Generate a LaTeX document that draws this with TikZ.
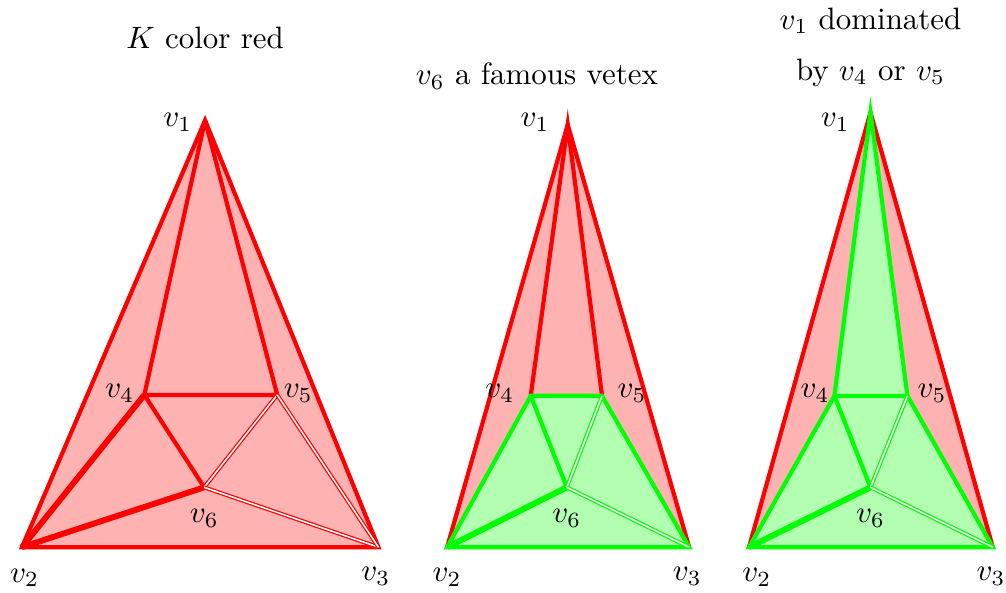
\documentclass[tikz,border=0pt]{standalone}
\usepackage{xcolor}
\usepackage{tikz}
\usetikzlibrary{positioning, calc}

\begin{document}
\begin{tikzpicture}[edge/.style={line width=1.35pt}, heavy/.style={line width=1.9pt}, dbl/.style={double, line width=0.4pt, double distance=0.5pt}, vlab/.style={inner sep=1pt}, title/.style={align=center}]
  \useasboundingbox (0,0) rectangle (11.43,6.727);

  % left: K colored red
  \coordinate (a1) at (2.33,5.36);
  \coordinate (a2) at (0.25,0.51);
  \coordinate (a3) at (4.30,0.51);
  \coordinate (a4) at (1.64,2.24);
  \coordinate (a5) at (3.15,2.24);
  \coordinate (a6) at (2.32,1.19);
  \fill[red!30] (a1) -- (a2) -- (a3) -- cycle;
  \draw[red, edge] (a1) -- (a2) -- (a3) -- cycle;
  \draw[red, edge] (a1) -- (a4) -- (a5) -- (a1);
  \draw[red, edge] (a4) -- (a6);
  \draw[red, heavy] (a2) -- (a4);
  \draw[red, heavy] (a2) -- (a6);
  \draw[red, dbl] (a5) -- (a6);
  \draw[red, dbl] (a6) -- (a3);
  \draw[red, dbl] (a5) -- (a3);
  \node[title] (ta) at (2.33,6.30) {$K$ color red};
  \node[vlab] (la1) at (2.02,5.34) {$v_1$};
  \node[vlab] (la2) at (0.28,0.16) {$v_2$};
  \node[vlab] (la3) at (4.27,0.18) {$v_3$};
  \node[vlab] (la4) at (1.36,2.26) {$v_4$};
  \node[vlab] (la5) at (3.39,2.26) {$v_5$};
  \node[vlab] (la6) at (2.32,0.84) {$v_6$};

  % middle: v6 famous
  \coordinate (b1) at (6.45,5.31);
  \coordinate (b2) at (5.08,0.51);
  \coordinate (b3) at (7.83,0.51);
  \coordinate (b4) at (6.03,2.23);
  \coordinate (b5) at (6.84,2.23);
  \coordinate (b6) at (6.44,1.19);
  \fill[red!30] (b1) -- (b2) -- (b3) -- cycle;
  \draw[red, edge] (b2) -- (b1) -- (b3);
  \draw[red, edge] (b4) -- (b1) -- (b5);
  \fill[green!30] (b2) -- (b4) -- (b5) -- (b3) -- cycle;
  \draw[green, edge] (b2) -- (b4) -- (b5) -- (b3) -- cycle;
  \draw[green, edge] (b4) -- (b6);
  \draw[green, heavy] (b2) -- (b6);
  \draw[green, dbl] (b5) -- (b6);
  \draw[green, dbl] (b6) -- (b3);
  \node[title] (tb) at (6.10,5.86) {$v_6$ a famous vetex};
  \node[vlab] (lb1) at (6.08,5.34) {$v_1$};
  \node[vlab] (lb2) at (5.08,0.17) {$v_2$};
  \node[vlab] (lb3) at (7.81,0.18) {$v_3$};
  \node[vlab] (lb4) at (5.68,2.26) {$v_4$};
  \node[vlab] (lb5) at (7.18,2.26) {$v_5$};
  \node[vlab] (lb6) at (6.44,0.84) {$v_6$};

  % right: v1 dominated
  \coordinate (c1) at (9.89,5.45);
  \coordinate (c2) at (8.51,0.51);
  \coordinate (c3) at (11.28,0.51);
  \coordinate (c4) at (9.48,2.23);
  \coordinate (c5) at (10.31,2.23);
  \coordinate (c6) at (9.89,1.19);
  \fill[red!30] (c1) -- (c2) -- (c3) -- cycle;
  \draw[red, edge] (c2) -- (c1) -- (c3);
  \fill[green!30] (c1) -- (c4) -- (c2) -- (c3) -- (c5) -- cycle;
  \draw[green, edge] (c1) -- (c4) -- (c2) -- (c3) -- (c5) -- cycle;
  \draw[green, edge] (c4) -- (c5);
  \draw[green, edge] (c4) -- (c6);
  \draw[green, heavy] (c2) -- (c6);
  \draw[green, dbl] (c5) -- (c6);
  \draw[green, dbl] (c6) -- (c3);
  \node[title] (tc) at (9.89,6.19) {$v_1$ dominated\\[4.5pt] by $v_4$ or $v_5$};
  \node[vlab] (lc1) at (9.49,5.34) {$v_1$};
  \node[vlab] (lc2) at (8.60,0.17) {$v_2$};
  \node[vlab] (lc3) at (11.26,0.18) {$v_3$};
  \node[vlab] (lc4) at (9.26,2.26) {$v_4$};
  \node[vlab] (lc5) at (10.59,2.26) {$v_5$};
  \node[vlab] (lc6) at (9.89,0.84) {$v_6$};
\end{tikzpicture}
\end{document}
